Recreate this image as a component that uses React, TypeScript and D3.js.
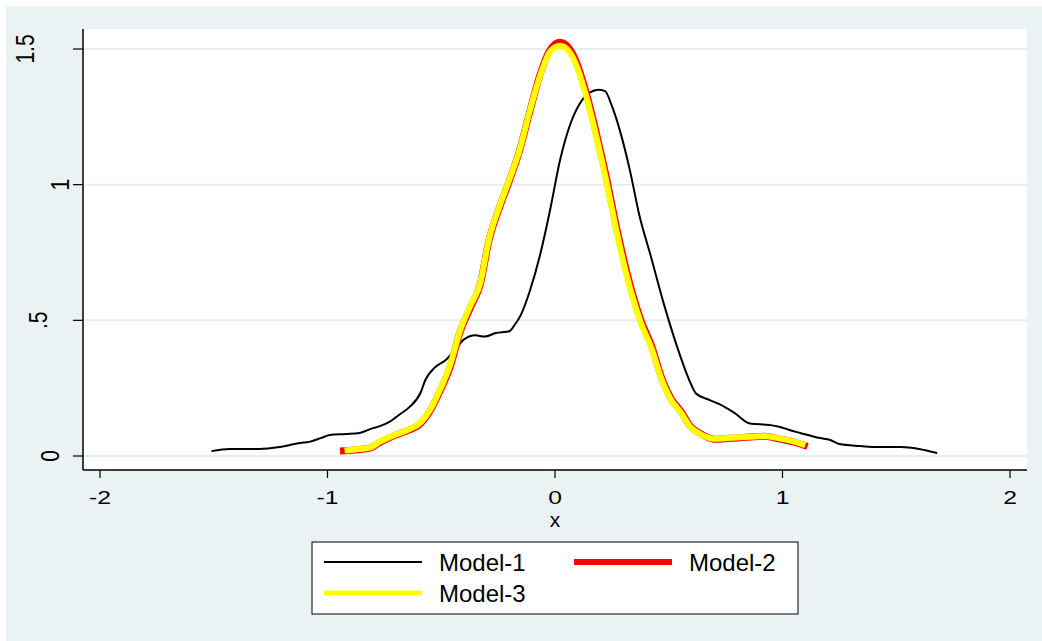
import React from "react";
import * as d3 from "d3";

const model1X = [-1.51,-1.43,-1.3,-1.21,-1.12,-1.08,-1.03,-0.99,-0.92,-0.86,-0.81,-0.77,-0.73,-0.68,-0.64,-0.59,-0.57,-0.53,-0.48,-0.44,-0.4,-0.35,-0.31,-0.26,-0.2,-0.18,-0.15,-0.11,-0.066,-0.022,0.022,0.066,0.11,0.154,0.19,0.22,0.25,0.285,0.33,0.37,0.42,0.48,0.55,0.59,0.62,0.68,0.725,0.79,0.857,0.945,0.99,1.03,1.077,1.165,1.21,1.25,1.34,1.43,1.52,1.6,1.68];
const model1Y = [0.018,0.026,0.026,0.033,0.048,0.052,0.066,0.077,0.081,0.085,0.1,0.11,0.125,0.155,0.18,0.235,0.28,0.325,0.354,0.39,0.43,0.445,0.44,0.453,0.46,0.48,0.52,0.61,0.74,0.905,1.09,1.22,1.3,1.34,1.35,1.345,1.29,1.2,1.05,0.89,0.74,0.556,0.37,0.28,0.23,0.206,0.19,0.158,0.12,0.114,0.107,0.096,0.085,0.066,0.059,0.044,0.037,0.033,0.033,0.026,0.011];

const model2X = [-0.945,-0.88,-0.81,-0.77,-0.7,-0.64,-0.59,-0.55,-0.505,-0.46,-0.42,-0.37,-0.33,-0.29,-0.24,-0.2,-0.155,-0.11,-0.066,-0.022,0.022,0.06,0.09,0.135,0.18,0.225,0.27,0.315,0.38,0.425,0.465,0.51,0.555,0.595,0.64,0.7,0.77,0.857,0.92,0.99,1.055,1.11];
const model2Y = [0.018,0.022,0.03,0.05,0.077,0.096,0.12,0.165,0.24,0.33,0.45,0.55,0.628,0.795,0.925,1.015,1.128,1.272,1.405,1.497,1.525,1.505,1.46,1.345,1.196,1.03,0.845,0.68,0.495,0.405,0.297,0.212,0.163,0.11,0.082,0.062,0.065,0.07,0.073,0.062,0.05,0.035];

const model3X = [-0.925,-0.88,-0.81,-0.77,-0.7,-0.64,-0.59,-0.55,-0.505,-0.46,-0.42,-0.37,-0.33,-0.29,-0.24,-0.2,-0.155,-0.11,-0.066,-0.022,0.022,0.06,0.09,0.135,0.18,0.225,0.27,0.315,0.38,0.425,0.465,0.51,0.555,0.595,0.64,0.7,0.77,0.857,0.92,0.99,1.055,1.1];
const model3Y = [0.02,0.024,0.032,0.053,0.079,0.099,0.124,0.169,0.245,0.338,0.455,0.558,0.633,0.8,0.93,1.02,1.13,1.275,1.4,1.49,1.512,1.493,1.448,1.333,1.183,1.015,0.83,0.665,0.485,0.395,0.29,0.207,0.158,0.107,0.08,0.064,0.067,0.071,0.074,0.064,0.052,0.04];

const xTicks = [-2, -1, 0, 1, 2];
const xTickLabels = ["-2", "-1", "0", "1", "2"];
const yTicks = [0, 0.5, 1, 1.5];
const yTickLabels = ["0", ".5", "1", "1.5"];
const seriesNames = ["Model-1", "Model-2", "Model-3"];
const xTitle = "x";

export default function App() {
  const W = 1042, H = 641;
  const plot = { left: 83, right: 1027, top: 29, bottom: 470 };
  const x = d3.scaleLinear().domain([-2, 2]).range([100, 1010]);
  const y = d3.scaleLinear().domain([0, 1.5]).range([456, 49]);
  const mk = (xs: number[], ys: number[]) =>
    d3.line<number>().x((_, i) => x(xs[i])).y((_, i) => y(ys[i])).curve(d3.curveMonotoneX)(xs) || "";
  const font = "'Liberation Sans', Arial, sans-serif";
  const yLabelX = [50, 38, 60, 25];
  return (
    <div style={{ position: "absolute", left: 0, top: 0 }}>
      <svg width={W} height={H} style={{ display: "block" }} fontFamily={font}>
        <rect x={0} y={0} width={W} height={H} fill="#ffffff" />
        <rect x={6} y={6} width={W - 6} height={H - 6} fill="#eaf2f3" />
        <rect x={plot.left} y={plot.top} width={plot.right - plot.left} height={plot.bottom - plot.top} fill="#ffffff" />
        {yTicks.map((t) => (
          <line key={"g" + t} x1={plot.left} x2={plot.right} y1={y(t)} y2={y(t)} stroke="#e6eef0" strokeWidth={2} />
        ))}
        <line x1={plot.left} x2={plot.left} y1={plot.top} y2={plot.bottom} stroke="#000" strokeWidth={1.5} />
        <line x1={plot.left} x2={plot.right} y1={plot.bottom} y2={plot.bottom} stroke="#000" strokeWidth={1.5} />
        {yTicks.map((t, i) => (
          <g key={"yt" + t}>
            <line x1={plot.left - 10} x2={plot.left} y1={y(t)} y2={y(t)} stroke="#000" strokeWidth={1.2} />
            <text transform={`translate(${yLabelX[i]},${y(t)}) scale(1.2,1) rotate(-90)`} textAnchor="middle" dy="0.36em" fontSize={21} fill="#000">
              {yTickLabels[i]}
            </text>
          </g>
        ))}
        {xTicks.map((t, i) => (
          <g key={"xt" + t}>
            <line x1={x(t)} x2={x(t)} y1={plot.bottom} y2={plot.bottom + 8} stroke="#000" strokeWidth={1.2} />
            <text transform={`translate(${x(t)},${504}) scale(1.3,1)`} textAnchor="middle" fontSize={19} fill="#000">
              {xTickLabels[i]}
            </text>
          </g>
        ))}
        <text x={555} y={527} textAnchor="middle" fontSize={21} fill="#000">{xTitle}</text>
        <path d={mk(model1X, model1Y)} fill="none" stroke="#000" strokeWidth={2} strokeLinejoin="round" />
        <path d={mk(model2X, model2Y)} fill="none" stroke="#ff0000" strokeWidth={7} strokeLinejoin="round" />
        <path d={mk(model3X, model3Y)} fill="none" stroke="#ffff00" strokeWidth={6} strokeLinejoin="round" />
        <rect x={312} y={542} width={486} height={72} fill="#ffffff" stroke="#000" strokeWidth={1} />
        <line x1={324} x2={422} y1={562} y2={562} stroke="#000" strokeWidth={2} />
        <text x={439} y={571} fontSize={24} fill="#000">{seriesNames[0]}</text>
        <line x1={574} x2={672} y1={562} y2={562} stroke="#ff0000" strokeWidth={6} />
        <text x={689} y={571} fontSize={24} fill="#000">{seriesNames[1]}</text>
        <line x1={324} x2={422} y1={593} y2={593} stroke="#ffff00" strokeWidth={5} />
        <text x={439} y={602} fontSize={24} fill="#000">{seriesNames[2]}</text>
      </svg>
    </div>
  );
}
